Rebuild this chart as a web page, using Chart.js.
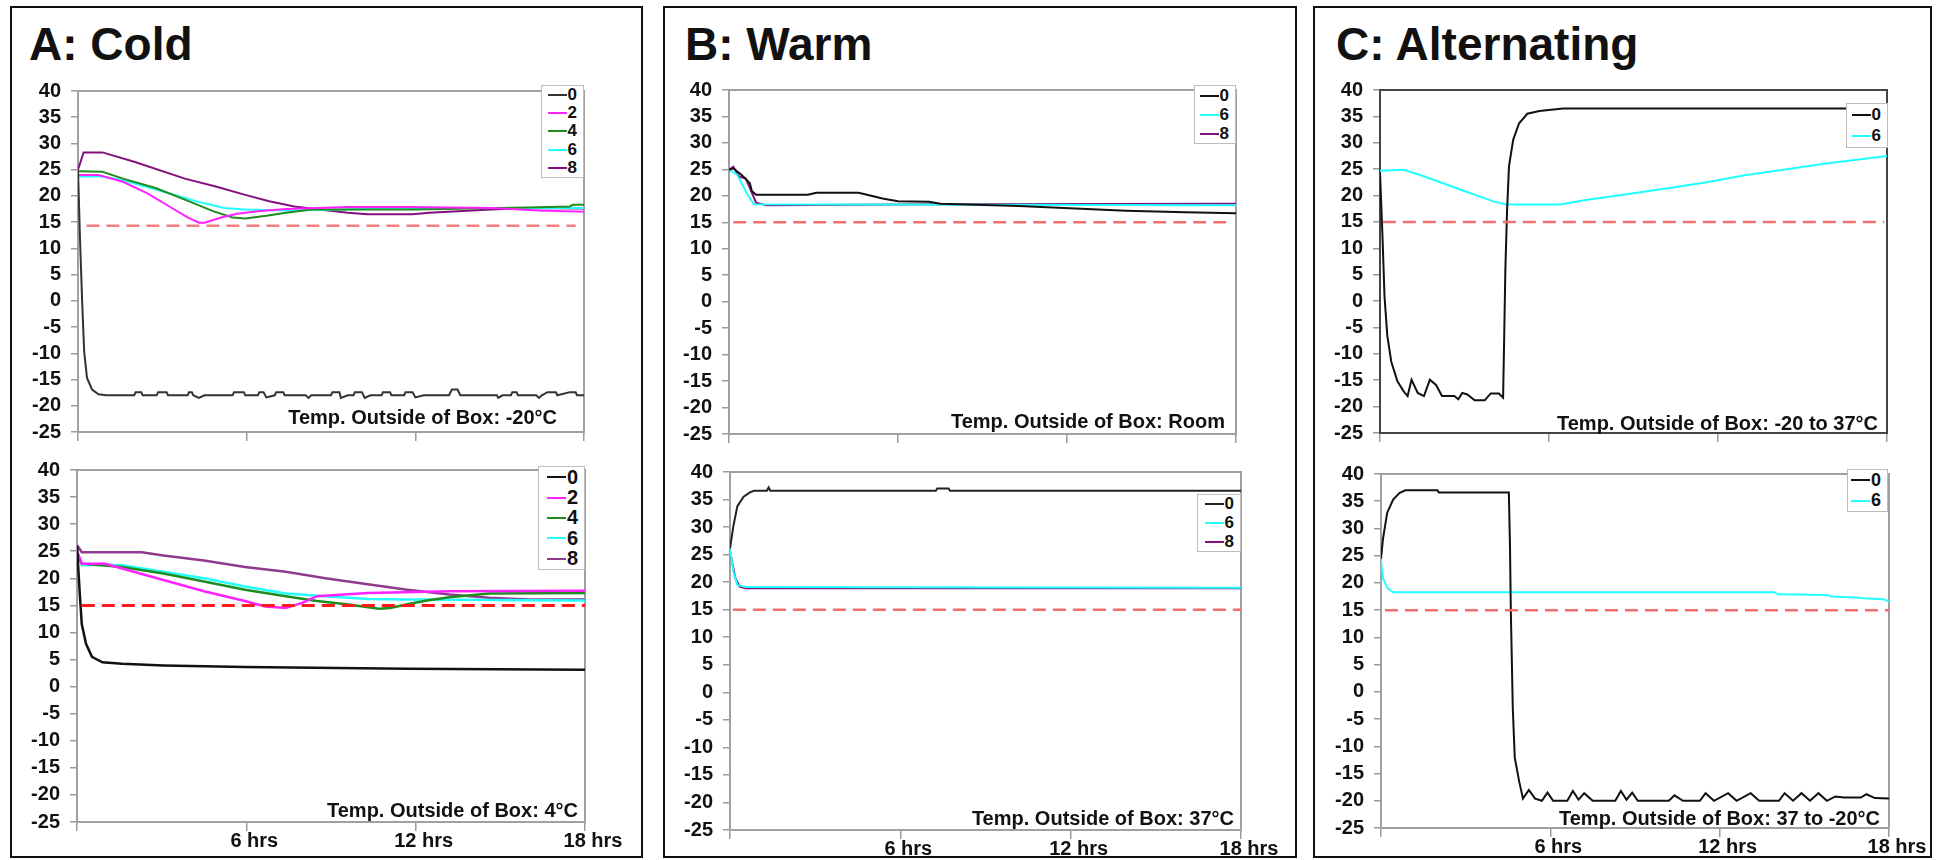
<!DOCTYPE html>
<html>
<head>
<meta charset="utf-8">
<script src="https://cdn.jsdelivr.net/npm/chart.js@4.4.0/dist/chart.umd.min.js"></script>
<style>
body { margin: 0; background: #fff; width: 1936px; height: 860px; position: relative; overflow: hidden;
       font-family: "Liberation Sans", Arial, sans-serif; color: #111; }
.panel { position: absolute; border: 2px solid #111; box-sizing: border-box; }
.title { position: absolute; font-weight: bold; font-size: 46px; line-height: 46px; white-space: nowrap; }
canvas { position: absolute; }
.note { position: absolute; font-weight: bold; font-size: 20px; line-height: 22px; white-space: nowrap;
        transform: translate(-100%, -50%); }
.legend { position: absolute; border: 1px solid #bdbdbd; background: #fff; box-sizing: border-box; }
.legend .row { display: flex; align-items: center; justify-content: flex-end; padding-right: 6px; font-weight: bold; }
.legend .swatch { display: inline-block; width: 19px; height: 2px; margin-right: 1px; }
</style>
</head>
<body>

<script>
// time in hours, temperature in °C: [hour, temp]

// A: Cold, outside -20°C
const coldTop0 = [[0,25],[0.07,12],[0.15,-0.5],[0.22,-9.7],[0.32,-14.7],[0.5,-16.9],[0.73,-17.8],[1.0,-18],
  [2.0,-18],[2.05,-17.4],[2.25,-17.4],[2.3,-18],[2.8,-18],[2.85,-17.4],[3.15,-17.4],[3.2,-18],[3.9,-18],[3.95,-17.4],
  [4.05,-17.4],[4.1,-18],[4.3,-18.5],[4.5,-18],[5.5,-18],[5.55,-17.4],[5.9,-17.4],[5.95,-18],[6.4,-18],[6.45,-17.4],
  [6.6,-17.4],[6.7,-18.4],[7.0,-18],[7.05,-17.4],[7.3,-17.4],[7.35,-18],[8.1,-18],[8.2,-18.5],[8.3,-18],[9.0,-18],
  [9.05,-17.4],[9.3,-17.4],[9.35,-18.5],[9.6,-18],[9.8,-18],[9.85,-17.4],[10.1,-17.4],[10.2,-18.5],[10.4,-18],
  [10.8,-18],[10.85,-17.4],[11.1,-17.4],[11.15,-18],[11.6,-18],[11.65,-17.4],[11.9,-17.4],[12.0,-18.4],[12.3,-18],
  [13.2,-18],[13.3,-16.9],[13.5,-16.9],[13.6,-18],[14.9,-18],[14.95,-18.5],[15.1,-18],[15.4,-18],[15.45,-17.4],
  [15.6,-17.4],[15.65,-18],[16.3,-18],[16.4,-18.5],[16.5,-18],[16.7,-17.4],[17.0,-17.4],[17.05,-18],[17.5,-17.4],
  [17.7,-17.4],[17.75,-18],[18,-18]];
const coldTop2 = [[0,24],[0.73,24],[1.6,22.7],[2.47,20.5],[3.34,17.7],[3.9,15.9],[4.3,14.9],[4.5,14.9],[5.1,15.9],
  [5.66,16.6],[6.4,17.1],[7.4,17.5],[9.6,17.9],[11.8,17.9],[14.7,17.7],[16.4,17.2],[18,17.0]];
const coldTop4 = [[0,24.7],[0.87,24.6],[1.6,23.3],[2.76,21.5],[3.8,19.3],[4.8,17.1],[5.5,15.9],[5.95,15.7],[6.7,16.2],
  [7.4,16.8],[8.3,17.4],[12,17.4],[16,17.8],[17.5,18.0],[17.6,18.3],[18,18.3]];
const coldTop6 = [[0,23.7],[0.87,23.7],[1.6,23.0],[3.05,20.8],[4.2,19.0],[5.2,17.7],[5.95,17.4],[7.4,17.2],[9.6,17.4],
  [11.8,17.7],[18,17.7]];
const coldTop8 = [[0,25],[0.2,28.3],[0.87,28.3],[2.0,26.5],[3.8,23.3],[4.9,21.8],[5.95,20.2],[6.8,19.0],[7.7,18.0],
  [8.6,17.4],[9.6,16.8],[10.3,16.5],[11.9,16.5],[12.5,16.8],[14.7,17.4],[16.1,17.7],[18,17.6]];
const coldTopLimit = [[0.3,14.3],[17.7,14.3]];

// A: Cold, outside 4°C
const coldBot0 = [[0,26],[0.1,17],[0.17,11.5],[0.32,7.9],[0.53,5.5],[0.9,4.5],[1.6,4.2],[3.06,3.9],[5.95,3.6],
  [11.7,3.3],[18,3.1]];
const coldBot2 = [[0,25],[0.17,22.7],[1.0,22.7],[1.6,21.8],[3.06,19.7],[4.5,17.6],[5.95,15.8],[6.67,14.8],[7.4,14.5],
  [8.0,15.5],[8.5,16.7],[10.3,17.3],[13.2,17.6],[18,17.7]];
const coldBot4 = [[0,24.8],[0.17,22.7],[1.6,22.1],[3.06,20.9],[4.5,19.4],[5.95,17.9],[7.4,16.7],[8.5,15.8],[9.55,15.2],
  [10.7,14.4],[11.1,14.5],[11.7,15.2],[12.4,15.9],[13.2,16.5],[14.6,17.2],[18,17.3]];
const coldBot6 = [[0,24.8],[0.17,22.4],[1.0,22.5],[1.6,22.4],[3.06,21.2],[4.5,20.0],[5.95,18.5],[7.4,17.2],[8.8,16.7],
  [10.3,16.2],[11.7,16.1],[18,15.9]];
const coldBot8 = [[0,26.1],[0.17,24.8],[2.3,24.8],[3.06,24.2],[4.5,23.3],[5.95,22.1],[7.4,21.2],[8.8,20.0],[10.3,18.9],
  [11.7,17.9],[13.2,17.0],[14.6,16.4],[16,16.1],[18,16.1]];
const coldBotLimit = [[0.17,15],[18,15]];

// B: Warm, outside room temperature
const warmTop0 = [[0,24.9],[0.15,25.2],[0.44,24],[0.74,22.4],[0.81,20.9],[0.96,20.2],[2.8,20.2],[3.1,20.6],[4.6,20.6],
  [4.9,20.2],[5.45,19.5],[6.0,19.0],[7.1,18.9],[7.5,18.5],[10.3,18.1],[11.9,17.7],[14.1,17.2],[16.2,16.9],[18,16.7]];
const warmTop6 = [[0,24.9],[0.29,24],[0.66,20.2],[0.88,18.4],[18,18.2]];
const warmTop8 = [[0,24.9],[0.15,25.5],[0.37,23.6],[0.59,23.3],[0.74,21.5],[0.96,18.7],[1.33,18.2],[7.5,18.4],[18,18.5]];
const warmTopLimit = [[0.15,15],[17.9,15]];

// B: Warm, outside 37°C
const warmBot0 = [[0,26.1],[0.12,30.2],[0.26,33.8],[0.48,35.5],[0.7,36.3],[0.85,36.6],[1.3,36.6],[1.36,37.2],
  [1.42,36.6],[7.25,36.6],[7.3,37.0],[7.7,37.0],[7.75,36.6],[18,36.6]];
const warmBot6 = [[0,26.1],[0.12,21.9],[0.26,19.5],[0.55,19.1],[18,19.0]];
const warmBot8 = [[0,25.5],[0.19,20.7],[0.34,19.2],[0.55,18.9],[18,18.9]];
const warmBotLimit = [[0.1,15],[18,15]];

// C: Alternating, -20 then 37°C
const altTop0 = [[0,24.4],[0.09,12],[0.16,0.9],[0.26,-6.6],[0.4,-11.5],[0.62,-15.2],[0.84,-17.1],[0.98,-18],
  [1.12,-14.9],[1.34,-17.4],[1.56,-18],[1.77,-14.9],[1.99,-15.9],[2.2,-18],[2.64,-18],[2.78,-18.6],[2.92,-17.4],
  [3.1,-17.7],[3.36,-18.8],[3.72,-18.8],[3.93,-17.5],[4.22,-17.5],[4.37,-18.3],[4.41,-6.6],[4.45,5.8],[4.51,17],
  [4.58,25.6],[4.73,30.6],[4.94,33.7],[5.23,35.5],[5.66,36.0],[6.5,36.5],[18,36.5]];
const altTop6 = [[0,24.7],[0.84,24.9],[1.48,23.8],[2.92,21.0],[4.08,18.8],[4.51,18.3],[6.4,18.3],[7.25,19.1],
  [8.7,20.2],[10.1,21.3],[11.6,22.5],[13.0,23.9],[14.45,25.0],[15.9,26.1],[18,27.5]];
const altTopLimit = [[0.1,15],[17.9,15]];

// C: Alternating, 37 then -20°C
const altBot0 = [[0,24.5],[0.07,28.1],[0.22,32.9],[0.43,35.3],[0.65,36.5],[0.86,37.0],[2.0,37.0],[2.05,36.6],
  [4.53,36.6],[4.57,26.9],[4.6,14.9],[4.67,-3.1],[4.74,-12.1],[4.89,-16.3],[5.03,-19.6],[5.24,-18.0],[5.46,-19.6],
  [5.7,-20],[5.9,-18.5],[6.1,-20],[6.6,-20],[6.8,-18.2],[7.0,-19.8],[7.2,-18.6],[7.5,-20],[8.3,-20],[8.5,-18.2],
  [8.7,-19.8],[8.9,-18.5],[9.1,-20],[10.2,-20],[10.4,-19.0],[10.7,-20],[11.3,-20],[11.5,-18.6],[11.8,-20],
  [12.3,-18.6],[12.6,-20],[13.1,-18.6],[13.4,-20],[14.1,-20],[14.3,-18.6],[14.6,-20],[14.9,-18.6],[15.2,-20],
  [15.5,-18.6],[15.8,-20],[16.1,-19.2],[16.4,-19.4],[17.0,-19.4],[17.2,-18.8],[17.5,-19.5],[18,-19.6]];
const altBot6 = [[0,24.2],[0.07,20.9],[0.22,19.1],[0.43,18.3],[13.9,18.3],[14.1,17.9],[15.8,17.8],[15.95,17.5],
  [16.95,17.3],[17.1,17.2],[17.8,17.0],[18,16.6]];
const altBotLimit = [[0.14,15],[18,15]];

const yTicks = { min: -25, max: 40, step: 5 };
const xTicks = { min: 0, max: 18, step: 6, unit: ' hrs' };

const panelTitles = ['A: Cold', 'B: Warm', 'C: Alternating'];
const outsideNotes = ['Temp. Outside of Box: -20°C', 'Temp. Outside of Box: 4°C',
  'Temp. Outside of Box: Room', 'Temp. Outside of Box: 37°C',
  'Temp. Outside of Box:  -20 to 37°C', 'Temp. Outside of Box:  37 to -20°C'];

const BLACK = '#111', PINK = '#ff22ff', GREEN = '#1e8c1e', CYAN = '#22ffff', PURPLE = '#82107f';

// page layout
const panels = [[10, 6, 643, 858], [663, 6, 1297, 858], [1313, 6, 1932, 858]];
const titlePos = [[29, 21], [685, 21], [1336, 21]];

const charts = [
  { rect: [78, 84, 584, 432], xLabels: false, frame: '#a0a0a0', limit: coldTopLimit, limitColor: '#f28080', limitWidth: 2.5,
    series: [['0', coldTop0, '#333'], ['2', coldTop2, PINK], ['4', coldTop4, GREEN], ['6', coldTop6, CYAN], ['8', coldTop8, PURPLE]],
    legend: [541, 85, 584, 178, 17], note: [0, 557, 417] },
  { rect: [77, 463, 585, 822], xLabels: true, frame: '#a0a0a0', limit: coldBotLimit, limitColor: '#ff1a1a', limitWidth: 3, lw: 2.5,
    series: [['0', coldBot0, BLACK], ['2', coldBot2, PINK], ['4', coldBot4, GREEN], ['6', coldBot6, CYAN], ['8', coldBot8, '#8e3a8e']],
    legend: [538, 466, 585, 570, 20], note: [1, 578, 810] },
  { rect: [729, 83, 1236, 434], xLabels: false, frame: '#a0a0a0', limit: warmTopLimit, limitColor: '#f07070', limitWidth: 2.5,
    series: [['0', warmTop0, BLACK], ['6', warmTop6, CYAN], ['8', warmTop8, PURPLE]],
    legend: [1194, 85, 1236, 144, 17], note: [2, 1225, 421] },
  { rect: [730, 465, 1241, 830], xLabels: true, frame: '#a0a0a0', limit: warmBotLimit, limitColor: '#f07070', limitWidth: 2.5,
    series: [['0', warmBot0, '#222'], ['6', warmBot6, CYAN], ['8', warmBot8, PURPLE]],
    legend: [1197, 494, 1241, 552, 17], note: [3, 1234, 818] },
  { rect: [1380, 83, 1887, 433], xLabels: false, frame: '#444', limit: altTopLimit, limitColor: '#f07070', limitWidth: 2.5,
    series: [['0', altTop0, BLACK], ['6', altTop6, CYAN]],
    legend: [1846, 103, 1888, 148, 17], note: [4, 1878, 423] },
  { rect: [1381, 467, 1889, 828], xLabels: true, frame: '#a0a0a0', limit: altBotLimit, limitColor: '#f07070', limitWidth: 2.5,
    series: [['0', altBot0, BLACK], ['6', altBot6, CYAN]],
    legend: [1847, 469, 1888, 512, 18], note: [5, 1880, 818] }
];

const PADL = 80, PADT = 15, PADR = 50, PADB = 40;

Chart.defaults.font.family = '"Liberation Sans", Arial, sans-serif';
Chart.defaults.color = '#111';

const framePlugin = {
  id: 'frame',
  beforeDatasetsDraw(chart, args, opts) {
    const { ctx, chartArea: a } = chart;
    ctx.save();
    ctx.strokeStyle = opts.color;
    ctx.lineWidth = 2;
    ctx.strokeRect(a.left, a.top, a.right - a.left, a.bottom - a.top);
    ctx.restore();
  }
};

function addDiv(cls, style, text) {
  const d = document.createElement('div');
  d.className = cls;
  Object.assign(d.style, style);
  if (text !== undefined) d.textContent = text;
  document.body.appendChild(d);
  return d;
}

// panel boxes and titles
panels.forEach((p, i) => {
  addDiv('panel', { left: p[0] + 'px', top: p[1] + 'px', width: (p[2] - p[0]) + 'px', height: (p[3] - p[1]) + 'px' });
  addDiv('title', { left: titlePos[i][0] + 'px', top: titlePos[i][1] + 'px' }, panelTitles[i]);
});

charts.forEach(c => {
  const [l, t, r, b] = c.rect;
  const canvas = document.createElement('canvas');
  canvas.width = r - l + PADL + PADR;
  canvas.height = b - t + PADT + PADB;
  canvas.style.left = (l - PADL) + 'px';
  canvas.style.top = (t - PADT) + 'px';
  document.body.appendChild(canvas);

  const datasets = c.series.map(s => ({
    label: s[0],
    data: s[1].map(p => ({ x: p[0], y: p[1] })),
    borderColor: s[2],
    borderWidth: c.lw || 2,
    pointRadius: 0,
    tension: 0
  }));
  datasets.unshift({
    label: 'limit',
    data: c.limit.map(p => ({ x: p[0], y: p[1] })),
    borderColor: c.limitColor,
    borderWidth: c.limitWidth,
    borderDash: [13, 7],
    pointRadius: 0
  });

  new Chart(canvas, {
    type: 'line',
    data: { datasets },
    options: {
      responsive: false,
      animation: false,
      layout: { padding: { left: 0, top: PADT, right: PADR, bottom: 0 } },
      plugins: { legend: { display: false }, tooltip: { enabled: false }, frame: { color: c.frame } },
      scales: {
        x: {
          type: 'linear', min: xTicks.min, max: xTicks.max,
          afterFit: s => { s.height = PADB; },
          border: { display: false },
          grid: { drawOnChartArea: false, drawTicks: true, tickLength: 9, color: '#9a9a9a', lineWidth: 1.5 },
          ticks: {
            stepSize: xTicks.step, autoSkip: false, maxRotation: 0, padding: -2, labelOffset: 8,
            font: { size: 20, weight: 'bold' },
            callback: v => (c.xLabels && v > 0) ? v + xTicks.unit : ''
          }
        },
        y: {
          min: yTicks.min, max: yTicks.max,
          afterFit: s => { s.width = PADL; },
          border: { display: false },
          grid: { drawOnChartArea: false, drawTicks: true, tickLength: 7, color: '#9a9a9a', lineWidth: 1.5 },
          ticks: { stepSize: yTicks.step, autoSkip: false, padding: 10, font: { size: 20, weight: 'bold' } }
        }
      }
    },
    plugins: [framePlugin]
  });

  // legend box built from the series
  const [ll, lt, lr, lb, fs] = c.legend;
  const box = addDiv('legend', { left: ll + 'px', top: lt + 'px', width: (lr - ll) + 'px', height: (lb - lt) + 'px' });
  const rowH = (lb - lt - 2) / c.series.length;
  c.series.forEach(s => {
    const row = document.createElement('div');
    row.className = 'row';
    row.style.height = rowH + 'px';
    row.style.fontSize = fs + 'px';
    const sw = document.createElement('span');
    sw.className = 'swatch';
    sw.style.background = s[2];
    const tx = document.createElement('span');
    tx.textContent = s[0];
    row.appendChild(sw);
    row.appendChild(tx);
    box.appendChild(row);
  });

  const [ni, nx, ny] = c.note;
  addDiv('note', { left: nx + 'px', top: ny + 'px' }, outsideNotes[ni]);
});
</script>
</body>
</html>
